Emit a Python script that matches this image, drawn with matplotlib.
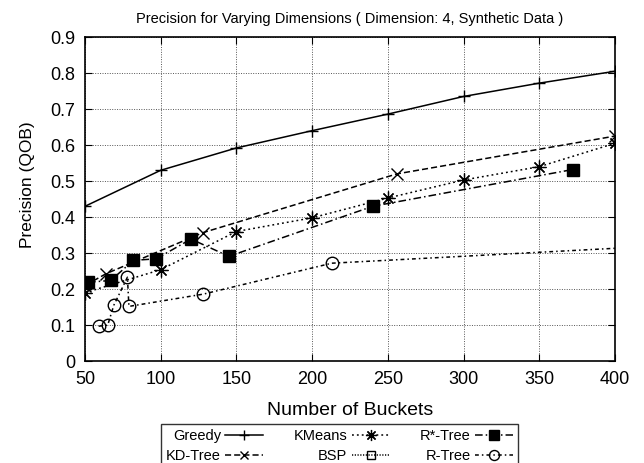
import matplotlib
matplotlib.use("Agg")
import matplotlib.pyplot as plt

plt.rcParams['font.family'] = ['Liberation Sans', 'DejaVu Sans']

greedy_x = [50, 100, 150, 200, 250, 300, 350, 400]
greedy_y = [0.43, 0.53, 0.592, 0.64, 0.686, 0.735, 0.772, 0.805]

kdtree_x = [50, 64, 128, 256, 400]
kdtree_y = [0.21, 0.243, 0.357, 0.52, 0.625]

kmeans_x = [50, 100, 150, 200, 250, 300, 350, 400]
kmeans_y = [0.19, 0.254, 0.36, 0.398, 0.453, 0.503, 0.54, 0.605]

bsp_x = []
bsp_y = []

rstar_x = [52, 67, 82, 97, 120, 145, 240, 372]
rstar_y = [0.219, 0.224, 0.28, 0.284, 0.339, 0.291, 0.43, 0.532]

rtree_x = [59, 65, 69, 78, 79, 128, 213, 430]
rtree_y = [0.097, 0.1, 0.155, 0.233, 0.152, 0.186, 0.272, 0.32]

labels = ['Greedy', 'KD-Tree', 'KMeans', 'BSP', 'R*-Tree', 'R-Tree']

fig = plt.figure(figsize=(6.44, 4.63), dpi=100)
ax = fig.add_axes([0.132, 0.22, 0.823, 0.70])

kw = dict(color='black', linewidth=1.1, markersize=8)
l1, = ax.plot(greedy_x, greedy_y, '-', marker='+', markersize=9, color='black', linewidth=1.1)
l2, = ax.plot(kdtree_x, kdtree_y, linestyle=(0, (4, 2)), marker='x', **kw)
l3, = ax.plot(kmeans_x, kmeans_y, linestyle=(0, (1.2, 2)), marker=(8, 2, 0), markersize=10,
              markeredgewidth=0.9, color='black', linewidth=1.1)
l4, = ax.plot(bsp_x, bsp_y, linestyle=(0, (0.8, 1)), marker='s', markerfacecolor='none', **kw)
l5, = ax.plot(rstar_x, rstar_y, linestyle=(0, (5, 2, 1, 2)), marker='s', markersize=9, color='black', linewidth=1.1)
l6, = ax.plot(rtree_x, rtree_y, linestyle=(0, (2.5, 2, 1, 2)), marker='o', markerfacecolor='none',
              markersize=9, color='black', linewidth=1.1)

ax.set_xlim(50, 400)
ax.set_ylim(0, 0.9)
ax.set_xticks(range(50, 401, 50))
ax.set_yticks([0, 0.1, 0.2, 0.3, 0.4, 0.5, 0.6, 0.7, 0.8, 0.9])
ax.set_yticklabels(['0', '0.1', '0.2', '0.3', '0.4', '0.5', '0.6', '0.7', '0.8', '0.9'])
ax.grid(True, color='#555555', linestyle=(0, (1, 1.5)), linewidth=0.7)
ax.tick_params(direction='in', top=True, right=True, labelsize=13, length=5, pad=7)
for s in ax.spines.values():
    s.set_linewidth(1.2)

ax.set_title('Precision for Varying Dimensions ( Dimension: 4, Synthetic Data )', fontsize=10.5, pad=10)
ax.set_xlabel('Number of Buckets', fontsize=14, labelpad=10)
ax.set_ylabel('Precision (QOB)', fontsize=12.5)
ax.yaxis.set_label_coords(-0.094, 0.543)

leg = fig.legend([l1, l2, l3, l4, l5, l6], labels,
                 ncol=3, loc='upper left', mode='expand',
                 bbox_to_anchor=(161 / 644, 1 - 424 / 463 - 0.01, 357 / 644, 0.01),
                 markerfirst=False, fontsize=10.5, frameon=True, fancybox=False,
                 edgecolor='black', handlelength=2.6, columnspacing=1.2,
                 labelspacing=0.4, borderpad=0.35, handletextpad=0.3,
                 markerscale=0.8, borderaxespad=0)
leg.get_frame().set_linewidth(1.0)

fig.savefig('out.png', dpi=100)
